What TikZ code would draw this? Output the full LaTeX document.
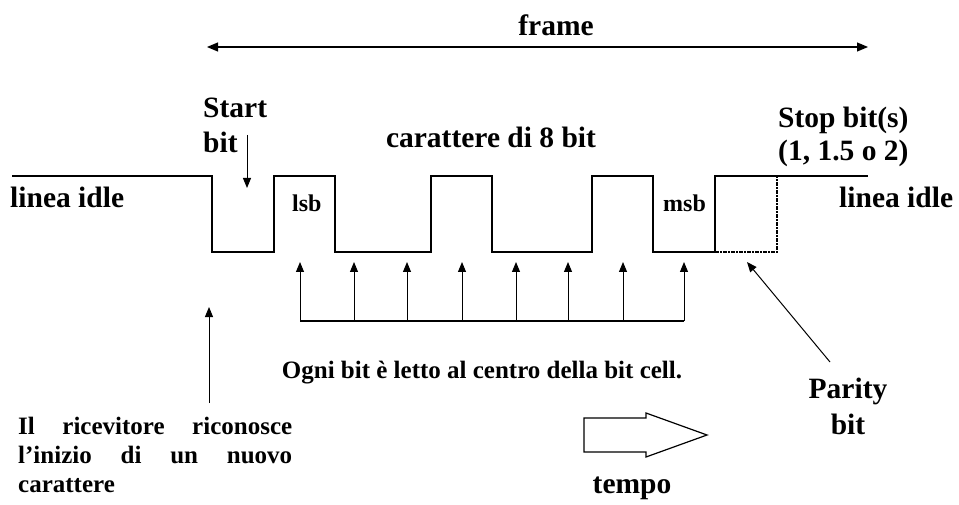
\documentclass[tikz,border=0pt]{standalone}
\usepackage{fontspec}
\setmainfont{Liberation Serif}
\usetikzlibrary{arrows.meta}
\tikzset{
  big/.style={font=\bfseries\fontsize{29.5}{35}\selectfont, inner sep=0pt},
  small/.style={font=\bfseries\fontsize{24}{29}\selectfont, inner sep=0pt},
  note/.style={font=\bfseries\fontsize{25}{29}\selectfont, inner sep=0pt},
  wave/.style={line width=1.3pt},
  tip/.style={-{Triangle[length=10pt,width=8pt]}, line width=1pt},
  dotline/.style={line width=1.3pt, dash pattern=on 3.5pt off 1.5pt on 1.5pt off 1.5pt},
}
\begin{document}
\begin{tikzpicture}[x=1pt,y=-1pt]
\useasboundingbox (0,0) rectangle (959,505);
% frame
\coordinate (fl) at (207,47);
\coordinate (fr) at (868,47);
\draw[{Triangle[length=11pt,width=9pt]}-{Triangle[length=11pt,width=9pt]}, line width=1.2pt] (fl) -- (fr);
\node[big, anchor=base] (frame) at (556,36) {frame};
% waveform
\draw[wave] (12,176) -- (212,176) -- (212,252) -- (274,252) -- (274,176) -- (335,176)
  -- (335,252) -- (431,252) -- (431,176) -- (492,176) -- (492,252) -- (592,252)
  -- (592,176) -- (653,176) -- (653,252) -- (715,252) -- (715,176) -- (868,176);
\draw[dotline] (715,252) -- (777,252) -- (777,176);
% labels
\node[big, anchor=base west] (start) at (203,118) {Start};
\node[big, anchor=base west] (startbit) at (203,153) {bit};
\coordinate (sa) at (247,135);
\coordinate (sb) at (247,188);
\draw[tip] (sa) -- (sb);
\node[big, anchor=base] (car) at (491,148) {carattere di 8 bit};
\node[big, anchor=base west] (stop1) at (778,128) {Stop bit(s)};
\node[big, anchor=base west] (stop2) at (778,161) {(1, 1.5 o 2)};
\node[big, anchor=base west] (idleL) at (10,208) {linea idle};
\node[big, anchor=base west] (idleR) at (839,208) {linea idle};
\node[small, anchor=base west] (lsb) at (292,212) {lsb};
\node[small, anchor=base west] (msb) at (663,212) {msb};
% sampling arrows
\foreach \x [count=\i] in {300,354,407,462,516,568,623,684} {
  \coordinate (b\i) at (\x,321);
  \coordinate (t\i) at (\x,262);
  \draw[tip] (b\i) -- (t\i);
}
\draw[line width=1.2pt] (b1) -- (b8);
\node[note, anchor=base] (ogni) at (482,378) {Ogni bit è letto al centro della bit cell.};
% receiver
\coordinate (ra) at (209,403);
\coordinate (rb) at (209,307);
\draw[tip] (ra) -- (rb);
\node[note, anchor=base west] (ric1) at (18,434) {\hbox to 274pt{Il\hfill ricevitore\hfill riconosce}};
\node[note, anchor=base west] (ric2) at (18,463) {\hbox to 274pt{l’inizio\hfill di\hfill un\hfill nuovo}};
\node[note, anchor=base west] (ric3) at (18,492) {carattere};
% parity
\node[big, anchor=base] (par) at (848,398) {Parity};
\node[big, anchor=base] (parbit) at (848,434) {bit};
\coordinate (pa) at (830,362);
\coordinate (pb) at (747,262);
\draw[tip] (pa) -- (pb);
% tempo
\draw[line width=1.2pt] (584,418) -- (646,418) -- (646,413) -- (707,435) -- (646,457) -- (646,452) -- (584,452) -- cycle;
\node[big, anchor=base] (tempo) at (632,493) {tempo};
\end{tikzpicture}
\end{document}
